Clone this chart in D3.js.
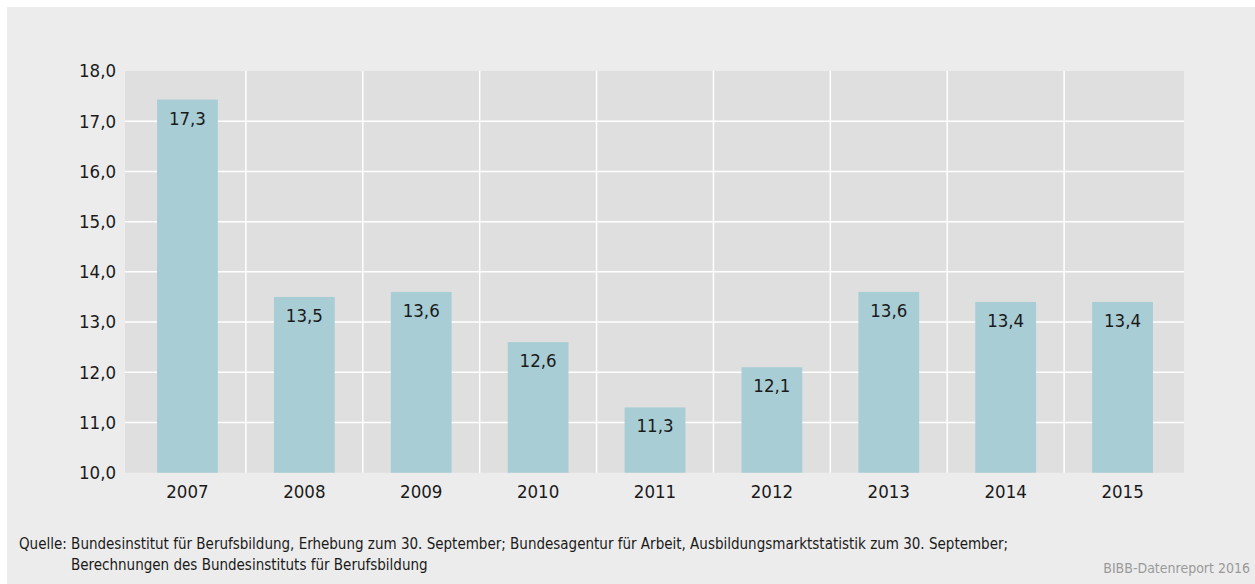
<!DOCTYPE html>
<html>
<head>
<meta charset="utf-8">
<script src="https://cdn.jsdelivr.net/npm/d3@7"></script>
<style>
  body { margin: 0; background: #fff; }
  text { font-family: "DejaVu Sans Condensed", "DejaVu Sans", sans-serif; }
</style>
</head>
<body>
<div id="chart"></div>
<script>
// data
const years = ["2007", "2008", "2009", "2010", "2011", "2012", "2013", "2014", "2015"];
const barValues = [17.43, 13.5, 13.6, 12.6, 11.3, 12.1, 13.6, 13.4, 13.4];
const valueLabels = ["17,3", "13,5", "13,6", "12,6", "11,3", "12,1", "13,6", "13,4", "13,4"];
const yTicks = [10, 11, 12, 13, 14, 15, 16, 17, 18];
const sourceLines = [
    "Quelle: Bundesinstitut für Berufsbildung, Erhebung zum 30. September; Bundesagentur für Arbeit, Ausbildungsmarktstatistik zum 30. September;",
    "Berechnungen des Bundesinstituts für Berufsbildung"
];
const credit = "BIBB-Datenreport 2016";

let width = 1255,
    height = 584;

let plot = {left: 125, right: 1184, top: 71, bottom: 472.7};

let svg = d3.select("#chart").append("svg")
    .attr("width", width)
    .attr("height", height)
    .style("display", "block");

// outer gray panel
svg.append("rect")
    .attr("x", 7)
    .attr("y", 7)
    .attr("width", width - 7)
    .attr("height", height - 7)
    .attr("fill", "#ececec");

// plot background
svg.append("rect")
    .attr("x", plot.left)
    .attr("y", plot.top)
    .attr("width", plot.right - plot.left)
    .attr("height", plot.bottom - plot.top)
    .attr("fill", "#dfdfdf");

let x = d3.scaleBand()
    .domain(years)
    .range([129, 1181])
    .paddingInner(0.48)
    .paddingOuter(0.24);

let y = d3.scaleLinear()
    .domain([10, 18])
    .range([plot.bottom, plot.top]);

let fmt = d => d3.format(".1f")(d).replace(".", ",");

// horizontal gridlines
svg.append("g")
    .selectAll("line")
    .data(yTicks.filter(d => d > 10 && d < 18))
    .enter().append("line")
    .attr("x1", plot.left)
    .attr("x2", plot.right)
    .attr("y1", d => y(d))
    .attr("y2", d => y(d))
    .attr("stroke", "#ffffff")
    .attr("stroke-width", 1.5);

// vertical gridlines between categories
let step = x.step();
svg.append("g")
    .selectAll("line")
    .data(years.slice(1))
    .enter().append("line")
    .attr("x1", d => x(d) - step * x.paddingInner() / 2)
    .attr("x2", d => x(d) - step * x.paddingInner() / 2)
    .attr("y1", plot.top)
    .attr("y2", plot.bottom)
    .attr("stroke", "#ffffff")
    .attr("stroke-width", 1.5);

// bars
svg.append("g")
    .selectAll("rect")
    .data(years)
    .enter().append("rect")
    .attr("x", d => x(d))
    .attr("width", x.bandwidth())
    .attr("y", (d, i) => y(barValues[i]))
    .attr("height", (d, i) => plot.bottom - y(barValues[i]))
    .attr("fill", "#a8cdd5");

// value labels inside the bars
svg.append("g")
    .selectAll("text")
    .data(years)
    .enter().append("text")
    .attr("x", d => x(d) + x.bandwidth() / 2)
    .attr("y", (d, i) => y(barValues[i]) + 25)
    .attr("text-anchor", "middle")
    .attr("font-size", "18.5px")
    .attr("fill", "#1a1a1a")
    .text((d, i) => valueLabels[i]);

// y axis
let yAxis = d3.axisLeft(y)
    .tickValues(yTicks)
    .tickFormat(fmt)
    .tickSize(0)
    .tickPadding(9);

let yg = svg.append("g")
    .attr("transform", "translate(" + plot.left + ",0)")
    .call(yAxis);
yg.select(".domain").remove();
yg.selectAll("text")
    .attr("font-size", "18.5px")
    .attr("fill", "#1a1a1a")
    .attr("font-family", null);

// x axis
let xAxis = d3.axisBottom(x)
    .tickSize(0)
    .tickPadding(12);

let xg = svg.append("g")
    .attr("transform", "translate(0," + plot.bottom + ")")
    .call(xAxis);
xg.select(".domain").remove();
xg.selectAll("text")
    .attr("font-size", "18.5px")
    .attr("fill", "#1a1a1a")
    .attr("font-family", null);

// source note
let src = svg.append("text")
    .attr("font-size", "15px")
    .attr("fill", "#1a1a1a");
src.append("tspan")
    .attr("x", 19)
    .attr("y", 549)
    .text(sourceLines[0]);
src.append("tspan")
    .attr("x", 71)
    .attr("y", 570)
    .text(sourceLines[1]);

svg.append("text")
    .attr("x", 1250)
    .attr("y", 573)
    .attr("text-anchor", "end")
    .attr("font-size", "14px")
    .attr("fill", "#9a9a9a")
    .text(credit);
</script>
</body>
</html>
